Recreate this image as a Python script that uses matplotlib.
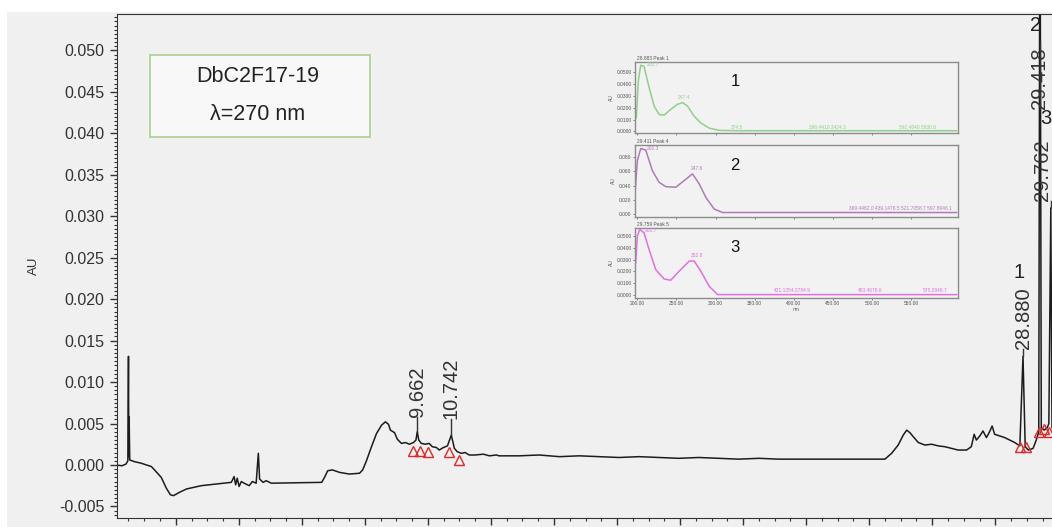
import matplotlib.pyplot as plt
from matplotlib.patches import Rectangle
from matplotlib.ticker import MultipleLocator, FormatStrFormatter

plt.rcParams["font.family"] = ["Liberation Sans", "DejaVu Sans"]

# ---- chromatogram (time in min, absorbance in AU) ----
time_min = [
    0.10, 0.29, 0.42, 0.48, 0.50, 0.51, 0.52, 0.54, 0.69, 0.91, 1.23, 1.54, 1.70,
    1.83, 1.93, 2.12, 2.34, 2.81, 3.29, 3.76, 3.79, 3.85, 3.90, 3.95, 4.01, 4.08,
    4.17, 4.33, 4.43, 4.55, 4.62, 4.66, 4.77, 4.87, 5.03, 6.63, 6.72, 6.82, 6.97,
    7.20, 7.51, 7.83, 7.93, 8.05, 8.21, 8.37, 8.53, 8.65, 8.75, 8.81, 8.94, 9.03,
    9.16, 9.29, 9.41, 9.54, 9.62, 9.662, 9.71, 9.79, 9.92, 10.04, 10.14, 10.27,
    10.36, 10.49, 10.62, 10.742, 10.84, 10.93, 11.06, 11.18, 11.31, 11.50, 11.76,
    11.95, 12.17, 12.26, 12.90, 13.53, 14.17, 14.80, 15.43, 16.06, 16.70, 17.33,
    17.96, 18.59, 19.23, 19.86, 20.50, 21.13, 21.76, 22.40, 23.03, 23.66, 24.50,
    24.71, 24.92, 25.08, 25.19, 25.29, 25.40, 25.56, 25.77, 25.98, 26.19, 26.40,
    26.61, 26.82, 27.09, 27.24, 27.33, 27.40, 27.51, 27.61, 27.72, 27.82, 27.90,
    27.98, 28.14, 28.30, 28.46, 28.62, 28.78, 28.88, 28.95, 29.05, 29.20, 29.30,
    29.38, 29.418, 29.46, 29.55, 29.65, 29.70, 29.762, 29.80,
]
absorbance = [
    0.0000, -0.0001, 0.0001, 0.0005, 0.0131, 0.0010, 0.0058, 0.0006, 0.0004, 0.0002,
    -0.0002, -0.0015, -0.0028, -0.0036, -0.0037, -0.0033, -0.0029, -0.0025, -0.0023,
    -0.0021, -0.0019, -0.0014, -0.0024, -0.0016, -0.0026, -0.0020, -0.0022, -0.0025,
    -0.0020, -0.0022, 0.0014, -0.0017, -0.0021, -0.0019, -0.0022, -0.0021, -0.0015,
    -0.0007, -0.0006, -0.0009, -0.0011, -0.0010, -0.0006, 0.0005, 0.0022, 0.0038,
    0.0048, 0.0052, 0.0049, 0.0042, 0.0039, 0.0031, 0.0026, 0.0027, 0.0025, 0.0027,
    0.0030, 0.0040, 0.0030, 0.0026, 0.0025, 0.0026, 0.0022, 0.0021, 0.0018, 0.0021,
    0.0023, 0.0036, 0.0020, 0.0016, 0.0014, 0.0015, 0.0012, 0.0012, 0.0013, 0.0011,
    0.0012, 0.0011, 0.0011, 0.0012, 0.0010, 0.0011, 0.0010, 0.0009, 0.0010, 0.0009,
    0.0008, 0.0009, 0.0008, 0.0007, 0.0008, 0.0007, 0.0007, 0.0007, 0.0007, 0.0007,
    0.0007, 0.0014, 0.0024, 0.0036, 0.0042, 0.0039, 0.0034, 0.0027, 0.0024, 0.0025,
    0.0023, 0.0022, 0.0020, 0.0018, 0.0018, 0.0022, 0.0037, 0.0030, 0.0035, 0.0041,
    0.0033, 0.0040, 0.0047, 0.0037, 0.0035, 0.0033, 0.0030, 0.0027, 0.0023, 0.0131,
    0.0022, 0.0018, 0.0020, 0.0030, 0.0040, 0.0750, 0.0045, 0.0042, 0.0045, 0.0050,
    0.0310, 0.0045,
]

# labelled peaks: retention time, apex, bottom of label
peak_rt = [9.662, 10.742, 28.880, 29.418, 29.762]
peak_apex = [0.0040, 0.0036, 0.0131, 0.0512, 0.0310]
peak_label_base = [0.0058, 0.0055, 0.0140, 0.0430, 0.0318]
peak_label_x = [9.662, 10.742, 28.880, 29.418, 29.50]
peak_number = ["", "", "1", "2", "3"]
peak_number_pos = [None, None, (28.75, 0.0232), (29.27, 0.0530), (29.62, 0.0418)]

# integration marks
mark_t = [9.53, 9.76, 9.99, 10.68, 10.98, 28.80, 28.98, 29.40, 29.55, 29.72]
mark_y = [0.0017, 0.0017, 0.0016, 0.0016, 0.0006, 0.0022, 0.0022, 0.0040, 0.0043, 0.0040]

# ---- inset UV spectra (nm vs AU) ----
spec_nm = [
    [198.7, 201.3, 204.3, 208.5, 215.0, 221.4, 227.8, 234.2, 242.7, 251.3, 257.7,
     264.1, 272.6, 281.2, 291.9, 304.7, 330.3, 608.0],
    [197.0, 200.0, 204.3, 210.7, 219.2, 227.8, 236.3, 249.1, 259.8, 270.5, 279.1,
     287.6, 298.3, 309.0, 608.0],
    [197.9, 200.0, 203.0, 208.5, 215.0, 223.5, 234.2, 242.7, 253.4, 266.2, 272.6,
     281.2, 291.9, 302.6, 608.0],
]
spec_au = [
    [0.0114, 0.0427, 0.0556, 0.0547, 0.0370, 0.0214, 0.0142, 0.0137, 0.0185, 0.0228,
     0.0242, 0.0214, 0.0128, 0.0071, 0.0028, 0.0009, 0.0006, 0.0006],
    [0.028, 0.075, 0.092, 0.090, 0.061, 0.0447, 0.0386, 0.0377, 0.047, 0.0565, 0.0424,
     0.0235, 0.0071, 0.0023, 0.0023],
    [0.0272, 0.050, 0.0557, 0.0529, 0.0386, 0.0214, 0.0134, 0.0123, 0.020, 0.0286,
     0.0288, 0.020, 0.0071, 0.0, 0.0],
]
spec_title = ["28.883 Peak 1", "29.411 Peak 4", "29.759 Peak 5"]
spec_colors = ["#8fd08a", "#b07ab8", "#e070e0"]
spec_yticks = [
    [0.0, 0.01, 0.02, 0.03, 0.04, 0.05],
    [0.0, 0.02, 0.04, 0.06, 0.08],
    [0.0, 0.01, 0.02, 0.03, 0.04, 0.05],
]
spec_ylim = [(-0.0013, 0.0583), (-0.004, 0.097), (-0.0029, 0.057)]
spec_ytick_fmt = ["%.4f", "%.3f", "%.4f"]
spec_notes = [
    [(212, 0.0545, "201.7"), (252, 0.0262, "247.4"), (320, 0.0016, "374.5"),
     (420, 0.0016, "396.4410 3424.3"), (535, 0.0016, "592.4640 5930.8")],
    [(212, 0.089, "202.3"), (268, 0.060, "247.6"),
     (470, 0.0045, "369.4462.0 439.1476.5 521.7058.7 597.8046.1")],
    [(210, 0.053, "201.7"), (268, 0.031, "252.8"), (375, 0.0012, "421.1354.2784.9"),
     (482, 0.0012, "493.4678.6"), (565, 0.0012, "575.2848.7")],
]
spec_xticks = [200, 250, 300, 350, 400, 450, 500, 550]

W, H = 1052, 527
fig = plt.figure(figsize=(W / 100, H / 100), dpi=100, facecolor="white")
fig.patches.append(Rectangle((7 / W, 0), 1, 1 - 12 / H, transform=fig.transFigure,
                             facecolor="#f0f0f0", edgecolor="none", zorder=-10))

ax = fig.add_axes([116.5 / W, 9 / H, 1 - 116.5 / W, (518 - 14) / H])
ax.set_facecolor("#f0f0f0")
ax.plot(time_min, absorbance, color="#1c1c1c", lw=1.1)
ax.plot(mark_t, mark_y, ls="none", marker="^", ms=7, mfc="none", mec="#e02828", mew=1.0)

for rt, apex, base, lx, num, pos in zip(peak_rt, peak_apex, peak_label_base, peak_label_x,
                                        peak_number, peak_number_pos):
    ax.plot([rt, rt], [apex, base], color="#333333", lw=1.0)
    ax.text(lx, base, f"{rt:.3f}", rotation=90, ha="center", va="bottom",
            fontsize=14.5, color="#333333")
    if num:
        ax.text(pos[0], pos[1], num, ha="center", va="center", fontsize=14.5,
                color="#222222")

ax.set_xlim(0.12, 29.80)
ax.set_ylim(-0.0064, 0.0544)
ax.xaxis.set_major_locator(MultipleLocator(2))
ax.xaxis.set_minor_locator(MultipleLocator(0.5))
ax.yaxis.set_major_locator(MultipleLocator(0.005))
ax.yaxis.set_minor_locator(MultipleLocator(0.0005))
ax.yaxis.set_major_formatter(FormatStrFormatter("%.3f"))
ax.tick_params(axis="both", which="major", direction="out", length=5, width=1,
               color="#333333", labelsize=11.5, labelcolor="#333333")
ax.tick_params(axis="both", which="minor", direction="out", length=2, width=0.8,
               color="#333333")
ax.tick_params(axis="x", labelbottom=False)
ax.spines["right"].set_visible(False)
for s in ["left", "top", "bottom"]:
    ax.spines[s].set_color("#333333")
ax.set_ylabel("AU", fontsize=9.5, color="#333333", labelpad=14)

# sample box
fig.patches.append(Rectangle((150 / W, 1 - 137 / H), 220 / W, 82 / H,
                             transform=fig.transFigure, facecolor="#f8f8f8",
                             edgecolor="#a9d18e", lw=1.2))
fig.text(258 / W, 1 - 76 / H, "DbC2F17-19", ha="center", va="center", fontsize=15.5,
         color="#222222")
fig.text(258 / W, 1 - 114 / H, "λ=270 nm", ha="center", va="center", fontsize=15.5,
         color="#222222")

# inset spectra
boxes = [(62, 133), (145, 217), (228, 298)]
for i, (top, bot) in enumerate(boxes):
    sax = fig.add_axes([635 / W, 1 - bot / H, 323 / W, (bot - top) / H])
    sax.set_facecolor("#f2f2f2")
    sax.plot(spec_nm[i], spec_au[i], color=spec_colors[i], lw=1.1)
    sax.set_xlim(197, 610)
    sax.set_ylim(*spec_ylim[i])
    sax.set_yticks(spec_yticks[i])
    sax.yaxis.set_major_formatter(FormatStrFormatter(spec_ytick_fmt[i]))
    sax.set_xticks(spec_xticks)
    sax.tick_params(labelsize=3.5, length=1.5, width=0.5, pad=1, colors="#555555")
    if i < 2:
        sax.tick_params(axis="x", labelbottom=False)
    else:
        sax.set_xticklabels([f"{v:.2f}" for v in spec_xticks])
        sax.set_xlabel("nm", fontsize=3.5, color="#555555", labelpad=0.5)
    for s in sax.spines.values():
        s.set_color("#8c8c8c")
        s.set_linewidth(1.0)
    sax.set_ylabel("AU", fontsize=3.5, color="#555555", labelpad=2)
    sax.text(0.005, 1.02, spec_title[i], transform=sax.transAxes, fontsize=3.5,
             color="#555555", va="bottom")
    for x, y, s in spec_notes[i]:
        sax.text(x, y, s, fontsize=3.5, color=spec_colors[i], va="bottom")
    sax.text(0.31, 0.72, str(i + 1), transform=sax.transAxes, fontsize=12,
             color="#111111", ha="center", va="center")

fig.savefig("out.png", dpi=100, facecolor=fig.get_facecolor())
